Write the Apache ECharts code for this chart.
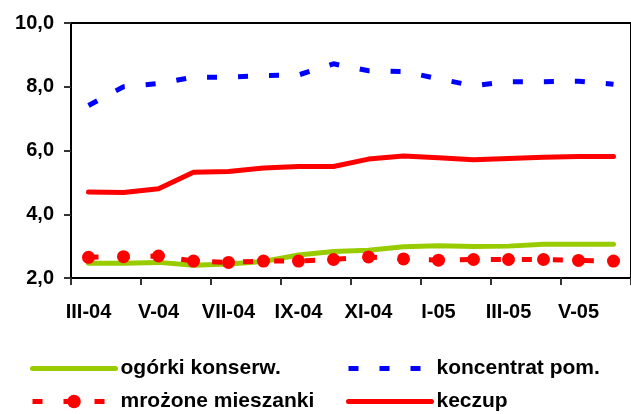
<!DOCTYPE html>
<html>
<head>
<meta charset="utf-8">
<script src="https://cdn.jsdelivr.net/npm/echarts@6/dist/echarts.min.js"></script>
<style>
  html, body { margin: 0; padding: 0; background: #fff; }
  #main { width: 631px; height: 414px; }
</style>
</head>
<body>
<div id="main"></div>
<script>
  var months = ['III-04', 'IV-04', 'V-04', 'VI-04', 'VII-04', 'VIII-04', 'IX-04', 'X-04',
    'XI-04', 'XII-04', 'I-05', 'II-05', 'III-05', 'IV-05', 'V-05', 'VI-05']
  var yTicks = [2, 4, 6, 8, 10]

  var ogorki = [2.46, 2.46, 2.49, 2.40, 2.44, 2.52, 2.72, 2.83, 2.87, 2.98, 3.01, 2.99, 3.00, 3.06, 3.06, 3.06]
  var koncentrat = [7.41, 8.00, 8.10, 8.30, 8.30, 8.35, 8.37, 8.72, 8.50, 8.48, 8.25, 8.03, 8.16, 8.16, 8.17, 8.08]
  var mrozone = [2.65, 2.67, 2.69, 2.53, 2.49, 2.53, 2.53, 2.58, 2.66, 2.60, 2.56, 2.58, 2.58, 2.58, 2.55, 2.53]
  var keczup = [4.70, 4.68, 4.80, 5.32, 5.34, 5.45, 5.50, 5.50, 5.73, 5.83, 5.77, 5.71, 5.75, 5.79, 5.81, 5.81]

  var font = '"Liberation Sans", Arial, sans-serif'
  var chart = echarts.init(document.getElementById('main'))

  // one legend per item, so the 2x2 layout is fixed
  function legendAt (name, left, top, hideSymbol) {
    var item = { name: name }
    if (hideSymbol) item.itemStyle = { opacity: 0 }
    return {
      left: left,
      top: top,
      itemWidth: 83,
      itemHeight: 17,
      padding: 0,
      textStyle: {
        color: '#000',
        fontFamily: font,
        fontWeight: 'bold',
        fontSize: 21,
        lineHeight: 21
      },
      lineStyle: { width: 5 },
      data: [item]
    }
  }

  chart.setOption({
    animation: false,
    grid: {
      left: 71,
      top: 23,
      width: 571,
      height: 255,
      show: true,
      borderColor: '#000',
      borderWidth: 2
    },
    legend: [
      legendAt('ogórki konserw.', 30, 358, true),
      legendAt('mrożone mieszanki', 30, 391, false),
      legendAt('koncentrat pom.', 346, 358, true),
      legendAt('keczup', 346, 391, true)
    ],
    xAxis: {
      type: 'category',
      data: months,
      boundaryGap: true,
      axisLine: { lineStyle: { color: '#000', width: 2 } },
      axisTick: { show: true, interval: 1, length: 7, lineStyle: { color: '#333', width: 2 } },
      axisLabel: {
        interval: 1,
        margin: 24,
        color: '#000',
        fontFamily: font,
        fontWeight: 'bold',
        fontSize: 20
      },
      splitLine: { show: false }
    },
    yAxis: {
      type: 'value',
      min: yTicks[0],
      max: yTicks[yTicks.length - 1],
      interval: 2,
      axisLine: { show: true, lineStyle: { color: '#000', width: 2 } },
      axisTick: { show: true, length: 7, lineStyle: { color: '#333', width: 2 } },
      axisLabel: {
        margin: 17,
        color: '#000',
        fontFamily: font,
        fontWeight: 'bold',
        fontSize: 20,
        formatter: function (v) {
          return v.toFixed(1).replace('.', ',')
        }
      },
      splitLine: { show: false }
    },
    series: [{
      name: 'ogórki konserw.',
      type: 'line',
      data: ogorki,
      symbol: 'none',
      color: '#99cc00',
      lineStyle: { color: '#99cc00', width: 5, cap: 'round', join: 'round' }
    }, {
      name: 'koncentrat pom.',
      type: 'line',
      data: koncentrat,
      symbol: 'none',
      color: '#0000ff',
      lineStyle: { color: '#0000ff', width: 5, type: [10, 21], cap: 'butt' }
    }, {
      name: 'mrożone mieszanki',
      type: 'line',
      data: mrozone,
      symbol: 'circle',
      symbolSize: 13,
      color: '#ff0000',
      itemStyle: { color: '#ff0000' },
      lineStyle: { color: '#ff0000', width: 5, type: [10, 21], cap: 'butt' }
    }, {
      name: 'keczup',
      type: 'line',
      data: keczup,
      symbol: 'none',
      color: '#ff0000',
      lineStyle: { color: '#ff0000', width: 5, cap: 'round', join: 'round' }
    }]
  })

  window.addEventListener('resize', function () {
    chart.resize()
  })
</script>
</body>
</html>
